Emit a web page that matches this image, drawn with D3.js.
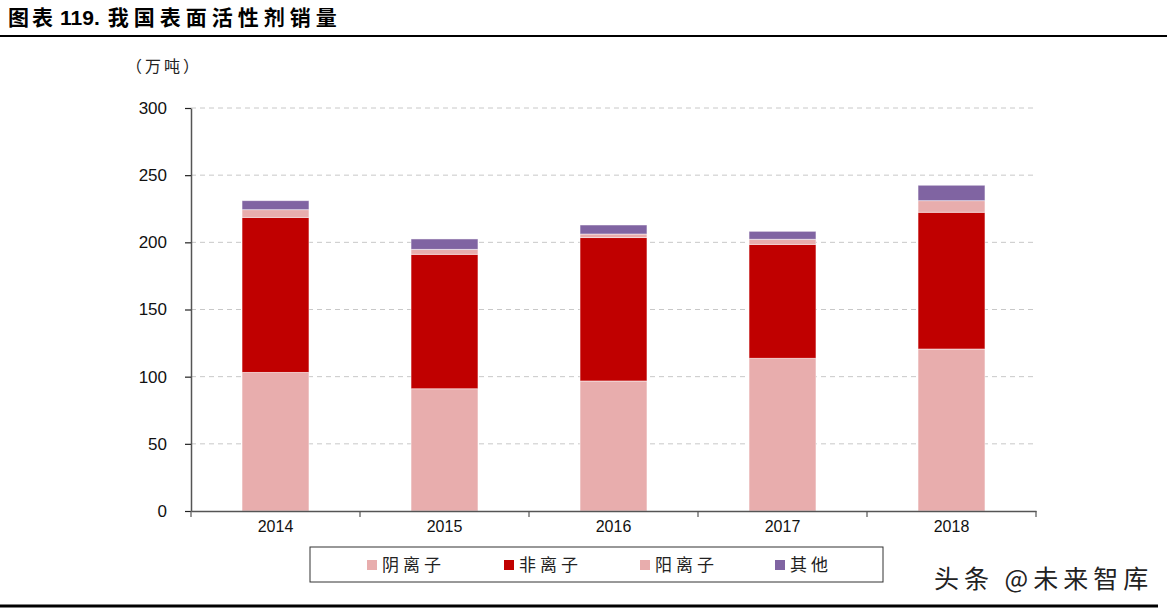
<!DOCTYPE html>
<html>
<head>
<meta charset="utf-8">
<script src="https://cdn.jsdelivr.net/npm/d3@7"></script>
<style>
  body { margin: 0; background: #fff; }
  svg { display: block; }
</style>
</head>
<body>
<div id="chart"></div>
<script>
var years = ["2014", "2015", "2016", "2017", "2018"];
var anionic = [103.2, 91.0, 96.8, 113.7, 120.6];
var nonionic = [115.4, 100.1, 106.7, 84.8, 101.8];
var cationic = [5.7, 3.7, 2.7, 3.8, 8.6];
var others = [6.7, 7.7, 6.7, 5.9, 11.5];
var seriesNames = ["阴离子", "非离子", "阳离子", "其他"];
var seriesColors = ["#E8ADAD", "#C00000", "#E8ADAD", "#8064A2"];
var yTicks = [0, 50, 100, 150, 200, 250, 300];

var chartWidth = 1167, chartHeight = 611;
var plotLeft = 191, plotRight = 1036, plotTop = 108, plotBottom = 511;
var cjk = "'Noto Sans CJK SC', sans-serif";
var latin = "Arial, 'Liberation Sans', sans-serif";

var svg = d3.select("#chart").append("svg")
  .attr("width", chartWidth).attr("height", chartHeight);

// title and rules
var title = svg.append("text")
  .attr("x", 8).attr("y", 25)
  .attr("font-weight", "bold").attr("fill", "#000");
title.append("tspan").attr("font-family", cjk).attr("font-size", 21)
  .attr("letter-spacing", 3).text("图表");
title.append("tspan").attr("font-family", latin).attr("font-size", 21)
  .attr("dx", 4).text("119.");
title.append("tspan").attr("font-family", cjk).attr("font-size", 21)
  .attr("dx", 8).attr("letter-spacing", 5).text("我国表面活性剂销量");

svg.append("line")
  .attr("x1", 0).attr("x2", chartWidth).attr("y1", 36).attr("y2", 36)
  .attr("stroke", "#000").attr("stroke-width", 2);

svg.append("line")
  .attr("x1", 0).attr("x2", 1158).attr("y1", 606).attr("y2", 606)
  .attr("stroke", "#000").attr("stroke-width", 3);

var x = d3.scaleBand().domain(years).range([plotLeft, plotRight])
  .paddingInner(0.604).paddingOuter(0.302);
var y = d3.scaleLinear().domain([0, 300]).range([plotBottom, plotTop]);

// gridlines
svg.append("g").selectAll("line")
  .data(yTicks.filter(function(d) { return d > 0; }))
  .enter().append("line")
  .attr("x1", plotLeft).attr("x2", plotRight)
  .attr("y1", function(d) { return y(d); })
  .attr("y2", function(d) { return y(d); })
  .attr("stroke", "#c8c8c8").attr("stroke-width", 1)
  .attr("stroke-dasharray", "5,4");

// stacked bars
var rows = years.map(function(yr, i) {
  return { year: yr, s0: anionic[i], s1: nonionic[i], s2: cationic[i], s3: others[i] };
});
var layers = d3.stack().keys(["s0", "s1", "s2", "s3"])(rows);

svg.append("g").selectAll("g")
  .data(layers)
  .enter().append("g")
  .attr("fill", function(d, i) { return seriesColors[i]; })
  .selectAll("rect")
  .data(function(d) { return d; })
  .enter().append("rect")
  .attr("x", function(d) { return x(d.data.year); })
  .attr("width", x.bandwidth())
  .attr("y", function(d) { return y(d[1]); })
  .attr("height", function(d) { return y(d[0]) - y(d[1]); })
  .attr("stroke", "#fff").attr("stroke-opacity", 0.6).attr("stroke-width", 0.8);

// y axis
var yAxis = svg.append("g")
  .attr("transform", "translate(" + plotLeft + ",0)")
  .call(d3.axisLeft(y).tickValues(yTicks).tickSize(6).tickPadding(18).tickSizeOuter(0));
yAxis.select(".domain").attr("stroke", "#555").attr("stroke-width", 1.5);
yAxis.selectAll(".tick line").attr("stroke", "#222").attr("stroke-width", 1.2);
yAxis.selectAll("text")
  .attr("font-family", latin).attr("font-size", 17).attr("fill", "#111");

// x axis
var xAxis = svg.append("g")
  .attr("transform", "translate(0," + plotBottom + ")")
  .call(d3.axisBottom(x).tickSize(0).tickPadding(10));
xAxis.select(".domain").attr("stroke", "#555").attr("stroke-width", 1.5);
xAxis.selectAll("text")
  .attr("font-family", latin).attr("font-size", 16).attr("fill", "#111");

// category boundary ticks
var bounds = [plotLeft].concat(years.map(function(d) {
  return x(d) - x.step() * x.paddingOuter() + x.step();
}));
svg.append("g").selectAll("line")
  .data(bounds)
  .enter().append("line")
  .attr("x1", function(d) { return d; }).attr("x2", function(d) { return d; })
  .attr("y1", plotBottom).attr("y2", plotBottom + 6)
  .attr("stroke", "#555").attr("stroke-width", 1.2);

// unit label
svg.append("text")
  .attr("x", 126).attr("y", 72)
  .attr("font-family", cjk).attr("font-size", 16).attr("letter-spacing", 3)
  .attr("fill", "#222")
  .text("（万吨）");

// legend
svg.append("rect")
  .attr("x", 310).attr("y", 547).attr("width", 573).attr("height", 35)
  .attr("fill", "#fff").attr("stroke", "#333").attr("stroke-width", 1);

var legendX = [367, 504, 640, 775];
var items = svg.append("g").selectAll("g")
  .data(seriesNames)
  .enter().append("g")
  .attr("transform", function(d, i) { return "translate(" + legendX[i] + ",565)"; });
items.append("rect")
  .attr("x", 0).attr("y", -5).attr("width", 10).attr("height", 10)
  .attr("fill", function(d, i) { return seriesColors[i]; });
items.append("text")
  .attr("x", 15).attr("y", 6)
  .attr("font-family", cjk).attr("font-size", 17).attr("letter-spacing", 4)
  .attr("fill", "#222")
  .text(function(d) { return d; });

// watermark
svg.append("text")
  .attr("x", 934).attr("y", 588)
  .attr("font-family", cjk).attr("font-size", 25).attr("letter-spacing", 5)
  .attr("fill", "#222")
  .attr("stroke", "#fff").attr("stroke-width", 3).attr("paint-order", "stroke")
  .text("头条 @未来智库");
</script>
</body>
</html>
